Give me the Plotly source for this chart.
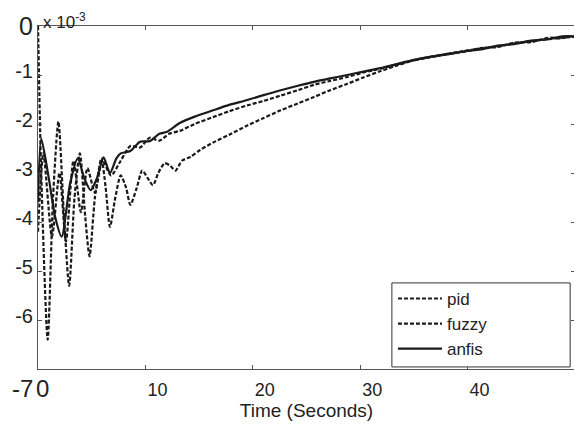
import plotly.graph_objects as go

# values in units of 1e-3
t_pid = [0, 0.3, 0.9, 1.4, 1.9, 2.4, 2.9, 3.4, 3.9, 4.4, 4.8, 5.3, 5.9, 6.3, 6.7, 7.2, 7.7, 8.2, 8.6, 9.2, 9.7, 10.2, 10.7, 11.2, 11.8, 12.3, 12.8, 13.4, 14.2, 15.1, 16.3, 17.8, 19.5, 21.0, 22.6, 24.2, 25.7, 27.2, 28.8, 30.3, 31.9, 33.5, 35.0, 36.5, 38.1, 39.6, 41.2, 42.8, 44.3, 45.9, 47.5, 48.8, 50.0]
v_pid = [0.0, -3.0, -6.4, -3.5, -1.95, -3.8, -5.3, -3.5, -2.6, -3.9, -4.7, -3.5, -2.7, -3.3, -4.1, -3.5, -3.05, -3.3, -3.65, -3.3, -2.95, -3.1, -3.25, -3.0, -2.8, -2.85, -2.95, -2.75, -2.67, -2.53, -2.38, -2.22, -2.03, -1.88, -1.72, -1.58, -1.45, -1.31, -1.18, -1.05, -0.92, -0.80, -0.70, -0.63, -0.57, -0.51, -0.46, -0.41, -0.36, -0.31, -0.27, -0.24, -0.22]

t_fuzzy = [0, 0.5, 1.3, 2.0, 2.6, 3.3, 4.0, 4.6, 5.3, 6.0, 6.8, 7.7, 8.6, 9.5, 10.4, 11.3, 12.2, 13.2, 14.6, 16.3, 17.8, 19.5, 21.0, 22.6, 24.2, 25.7, 27.2, 28.8, 30.3, 31.9, 33.5, 35.0, 36.5, 38.1, 39.6, 41.2, 42.8, 44.3, 45.9, 47.5, 48.8, 50.0]
v_fuzzy = [-4.2, -2.6, -4.3, -3.0, -4.4, -2.75, -3.8, -2.9, -3.4, -2.75, -3.05, -2.75, -2.45, -2.48, -2.28, -2.34, -2.2, -2.14, -2.0, -1.86, -1.74, -1.62, -1.53, -1.42, -1.31, -1.20, -1.12, -1.04, -0.95, -0.87, -0.78, -0.70, -0.64, -0.57, -0.53, -0.45, -0.43, -0.34, -0.33, -0.24, -0.25, -0.19]

t_anfis = [0, 0.3, 1.0, 1.6, 2.2, 3.0, 3.7, 4.3, 4.9, 5.5, 6.1, 6.7, 7.3, 7.7, 8.6, 9.5, 10.4, 11.3, 12.0, 13.2, 14.6, 16.3, 17.8, 19.5, 21.0, 22.6, 24.2, 25.7, 27.2, 28.8, 30.3, 31.9, 33.5, 35.0, 36.5, 38.1, 39.6, 41.2, 42.8, 44.3, 45.9, 47.5, 48.8, 50.0]
v_anfis = [-3.6, -2.3, -3.1, -3.9, -4.3, -3.2, -2.7, -3.1, -3.35, -3.1, -2.68, -3.0, -2.7, -2.6, -2.55, -2.36, -2.35, -2.2, -2.16, -1.98, -1.85, -1.72, -1.61, -1.51, -1.41, -1.31, -1.22, -1.14, -1.07, -1.0, -0.93, -0.86, -0.77, -0.69, -0.63, -0.58, -0.52, -0.48, -0.40, -0.37, -0.30, -0.27, -0.21, -0.21]

x_ticks = [10, 20, 30, 40, 50]
y_ticks = [-6, -5, -4, -3, -2, -1]
y_tick_text = ["-6", "-5", "-4", "-3", "-2", "-1"]

FONT = "Liberation Sans, Arial, sans-serif"
INK = "#1a1a1a"

fig = go.Figure()
fig.add_trace(go.Scatter(x=t_pid, y=v_pid, mode="lines", name="pid",
                         line=dict(color=INK, width=2.2, dash="4px,2px", shape="spline", smoothing=0.7)))
fig.add_trace(go.Scatter(x=t_fuzzy, y=v_fuzzy, mode="lines", name="fuzzy",
                         line=dict(color=INK, width=2.2, dash="4px,2px", shape="spline", smoothing=0.7)))
fig.add_trace(go.Scatter(x=t_anfis, y=v_anfis, mode="lines", name="anfis",
                         line=dict(color=INK, width=2.2, shape="spline", smoothing=0.7)))

fig.update_layout(
    width=582, height=427,
    margin=dict(l=30, r=15, t=18, b=66, autoexpand=False),
    paper_bgcolor="white", plot_bgcolor="white",
    font=dict(family=FONT, color="#222", size=18),
    showlegend=True,
    legend=dict(x=0.661, y=0.006, xanchor="left", yanchor="bottom",
                bgcolor="rgba(0,0,0,0)", borderwidth=0,
                font=dict(size=17, family=FONT, color="#222"),
                itemwidth=44, tracegroupgap=0),
    xaxis=dict(range=[0, 50], tickvals=x_ticks, showgrid=False, zeroline=False,
               showline=True, linecolor="#555", linewidth=1, mirror="ticks",
               ticks="inside", ticklen=4, tickcolor="#555", automargin=False,
               ticklabelshift=12, ticklabelstandoff=4, ticklabeloverflow="allow",
               title=dict(text="Time (Seconds)", font=dict(size=19), standoff=4)),
    yaxis=dict(range=[-7, 0], tickvals=y_ticks, ticktext=y_tick_text, showgrid=False, zeroline=False,
               showline=True, linecolor="#555", linewidth=1, mirror="ticks",
               ticks="inside", ticklen=4, tickcolor="#555", automargin=False,
               tickfont=dict(size=20),
               ticklabelshift=-4, ticklabelstandoff=0),
)

# legend frame
fig.add_shape(type="rect", xref="paper", yref="paper", x0=0.659, x1=0.991, y0=0.006, y1=0.251,
              line=dict(color="#333", width=1), fillcolor="white", layer="above")

# big end labels and exponent
fig.add_annotation(x=0, y=0, xref="x", yref="y", text="0", showarrow=False,
                   xanchor="right", yanchor="middle", xshift=-3, font=dict(size=25, color="#222"))
fig.add_annotation(x=0, y=-7, xref="x", yref="y", text="-7", showarrow=False,
                   xanchor="right", yanchor="top", xshift=-3, yshift=-4, font=dict(size=24, color="#222"))
fig.add_annotation(x=0, y=-7, xref="x", yref="y", text="0", showarrow=False,
                   xanchor="left", yanchor="top", xshift=-4, yshift=-4, font=dict(size=24, color="#222"))
fig.add_annotation(x=0, y=1, xref="paper", yref="paper", text="x 10<sup>-3</sup>", showarrow=False,
                   xanchor="left", yanchor="bottom", xshift=3, yshift=-8, font=dict(size=17, color="#222"))

fig.write_html("out.html")
